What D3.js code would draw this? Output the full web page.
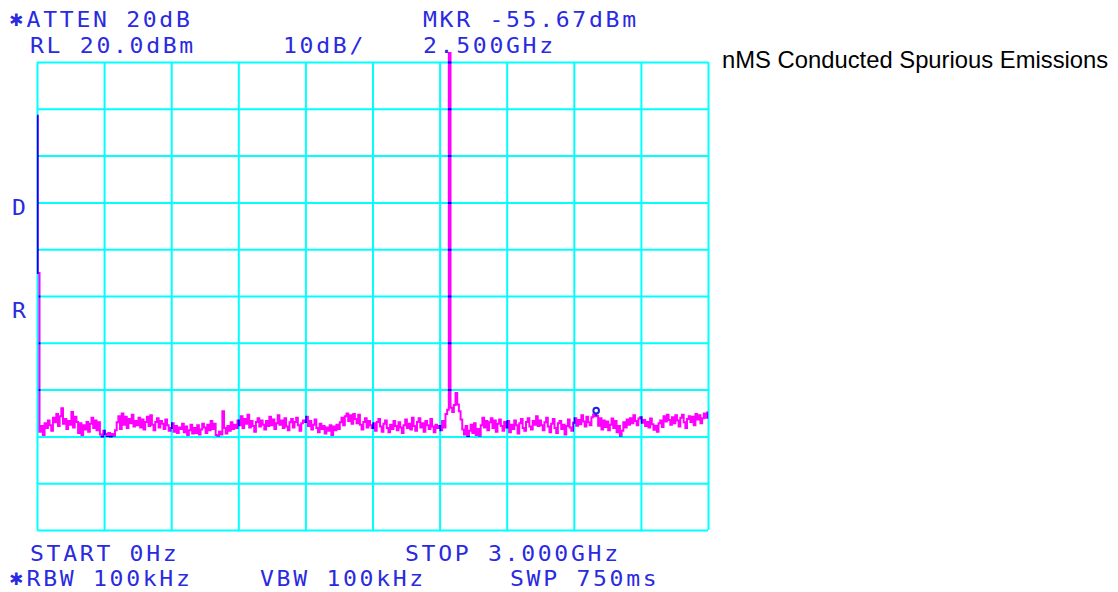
<!DOCTYPE html>
<html>
<head>
<meta charset="utf-8">
<script src="https://cdn.jsdelivr.net/npm/d3@7"></script>
<style>
  html, body { margin: 0; padding: 0; background: #fff; }
  svg { display: block; }
  .scr { font-family: "DejaVu Sans Mono", monospace; font-size: 21px; letter-spacing: 2.45px; fill: #2a2ae0; }
  .star { font-family: "DejaVu Sans", sans-serif; font-size: 17px; fill: #2a2ae0; }
</style>
</head>
<body>
<svg id="chart"></svg>
<script>
// sweep settings
const startGHz = 0, stopGHz = 3.0;
const refDbm = 20, dbPerDiv = 10, vDivs = 10, hDivs = 10;

// trace A, 401 sweep points, dBm
const traceDbm = [
  8.5, -25.1, -59.0, -57.8, -59.7, -57.2, -58.2, -56.6, -57.6, -58.8, -56.0, -57.0, -55.2, -57.8, -55.7, -54.0, -57.3, -56.3, -58.4, -56.7,
  -57.5, -54.8, -58.1, -55.8, -56.9, -59.3, -57.2, -59.7, -57.6, -58.5, -56.9, -59.0, -57.3, -56.0, -58.2, -56.6, -58.7, -57.0, -59.6, -60.0,
  -58.8, -59.5, -59.9, -59.3, -60.0, -59.5, -59.8, -58.7, -57.0, -55.7, -58.4, -55.1, -57.5, -55.8, -58.2, -56.3, -57.2, -55.4, -57.9, -56.7,
  -57.6, -56.0, -58.1, -56.4, -58.5, -56.9, -55.8, -57.8, -55.5, -57.5, -58.7, -56.9, -56.1, -58.1, -56.7, -57.3, -58.4, -56.4, -57.6, -58.8,
  -58.2, -57.2, -59.0, -57.8, -59.3, -58.1, -58.4, -57.3, -59.1, -57.9, -59.7, -58.7, -57.5, -59.4, -58.2, -59.3, -57.6, -59.6, -58.5, -57.3,
  -58.1, -59.3, -57.5, -58.7, -56.7, -58.4, -57.3, -59.7, -59.8, -59.0, -59.6, -54.6, -58.2, -59.4, -57.8, -58.8, -57.0, -58.4, -57.5, -58.2,
  -56.6, -57.6, -55.7, -58.2, -56.3, -57.3, -55.4, -58.1, -56.7, -57.8, -59.0, -56.9, -56.1, -57.9, -56.6, -57.5, -58.5, -56.7, -57.8, -55.8,
  -57.6, -56.4, -58.4, -57.2, -55.5, -57.5, -56.6, -58.2, -56.1, -57.9, -58.7, -57.0, -56.3, -58.1, -56.9, -56.0, -57.6, -58.8, -57.2, -56.6,
  -56.9, -55.8, -57.8, -56.7, -58.5, -57.5, -56.4, -58.2, -59.1, -57.3, -58.4, -57.8, -59.4, -58.1, -58.8, -57.6, -59.7, -57.9, -58.7, -57.5,
  -58.4, -57.0, -56.0, -57.6, -55.7, -55.1, -56.7, -55.5, -57.3, -55.2, -56.3, -57.2, -55.4, -57.5, -58.5, -56.9, -56.1, -58.1, -56.7, -57.6,
  -58.2, -57.2, -58.8, -56.9, -56.3, -57.9, -59.0, -57.3, -56.6, -58.2, -59.1, -57.5, -58.4, -56.7, -57.8, -58.7, -57.0, -58.1, -59.3, -57.6,
  -56.4, -58.2, -57.3, -58.5, -56.0, -57.8, -58.8, -56.9, -56.1, -58.1, -57.2, -59.0, -56.7, -57.6, -58.4, -56.3, -57.9, -59.1, -57.5, -58.2,
  -57.8, -58.7, -56.7, -58.1, -55.2, -54.3, 21.9, -53.9, -54.8, -53.3, -50.7, -53.2, -54.6, -56.4, -58.5, -59.6, -57.8, -59.9, -58.8, -57.5,
  -59.3, -57.2, -59.7, -58.4, -59.8, -57.6, -56.0, -58.1, -56.7, -58.7, -57.0, -56.1, -58.2, -56.6, -59.0, -57.3, -56.4, -57.8, -58.8, -56.9,
  -58.1, -56.7, -59.1, -57.5, -58.4, -56.6, -57.6, -59.4, -57.2, -56.3, -58.2, -58.8, -56.9, -56.1, -57.9, -58.5, -56.7, -57.5, -55.7, -57.8,
  -56.6, -57.6, -58.7, -57.0, -56.0, -57.9, -59.1, -57.3, -56.3, -58.2, -59.3, -57.2, -56.7, -58.4, -57.5, -59.6, -57.8, -56.4, -58.1, -58.8,
  -57.1, -56.1, -57.7, -56.5, -57.4, -55.5, -56.8, -57.9, -55.8, -57.0, -57.6, -55.9, -55.3, -55.7, -55.6, -57.7, -56.1, -58.5, -56.6, -58.0,
  -56.8, -58.7, -57.5, -56.2, -58.2, -56.7, -59.1, -57.8, -59.8, -58.8, -57.0, -58.1, -56.4, -57.5, -56.1, -57.2, -55.5, -56.7, -57.6, -56.2,
  -55.9, -57.1, -56.5, -57.8, -56.9, -58.1, -56.2, -57.4, -58.6, -57.7, -59.0, -57.2, -56.6, -58.0, -55.7, -56.8, -55.4, -56.5, -57.5, -55.9,
  -57.2, -55.5, -56.6, -57.9, -56.0, -55.4, -57.0, -58.2, -56.3, -55.7, -56.9, -55.8, -57.6, -55.2, -56.4, -55.5, -57.2, -56.1, -55.1, -56.0, -54.9
];

const markerGHz = 2.5, markerDbm = -55.67;

const topLabels = ["*ATTEN 20dB", "MKR -55.67dBm", "RL 20.0dBm", "10dB/", "2.500GHz"];
const bottomLabels = ["START 0Hz", "STOP 3.000GHz", "*RBW 100kHz", "VBW 100kHz", "SWP 750ms"];
const sideLabels = ["D", "R"];
const title = "nMS Conducted Spurious Emissions";

const width = 1118, height = 592;
const screen = {left: 37, right: 708, top: 62, bottom: 530};
const cell = 16.6, sx = 1.1;

const svg = d3.select("#chart").attr("width", width).attr("height", height);
svg.append("rect").attr("width", width).attr("height", height).attr("fill", "#fff");

const x = d3.scaleLinear().domain([startGHz, stopGHz]).range([screen.left, screen.right]);
const y = d3.scaleLinear()
  .domain([refDbm - dbPerDiv * vDivs, refDbm])
  .range([screen.bottom, screen.top]);

const step = (stopGHz - startGHz) / (traceDbm.length - 1);
const trace = traceDbm.map((v, i) => [startGHz + i * step, v]);

// trace
svg.append("path")
  .datum(trace)
  .attr("fill", "none")
  .attr("stroke", "#ff00ff")
  .attr("stroke-width", 2)
  .attr("d", d3.line().curve(d3.curveStep).x(d => x(d[0])).y(d => y(d[1])));

// marker
const mx = x(markerGHz), my = y(markerDbm);
svg.append("line")
  .attr("x1", mx).attr("x2", mx).attr("y1", my - 3).attr("y2", my)
  .attr("stroke", "#1f1fe8").attr("stroke-width", 2);
svg.append("circle")
  .attr("cx", mx).attr("cy", my - 5.5).attr("r", 2.8)
  .attr("fill", "#fff").attr("stroke", "#1f1fe8").attr("stroke-width", 2);

// graticule drawn over the trace (cyan x magenta -> blue)
const grid = svg.append("g").style("mix-blend-mode", "multiply");
grid.append("g")
  .attr("transform", `translate(0,${screen.bottom})`)
  .call(d3.axisBottom(x).tickValues(d3.range(hDivs + 1).map(i => startGHz + i * (stopGHz - startGHz) / hDivs))
    .tickSize(-(screen.bottom - screen.top)).tickFormat(""));
grid.append("g")
  .attr("transform", `translate(${screen.left},0)`)
  .call(d3.axisLeft(y).tickValues(d3.range(vDivs + 1).map(i => refDbm - i * dbPerDiv))
    .tickSize(-(screen.right - screen.left)).tickFormat(""));
grid.selectAll(".domain").remove();
grid.selectAll(".tick line").attr("stroke", "#00ffff").attr("stroke-width", 2);

// screen annotations
const topPos = [[10, 27], [423, 27], [30, 53], [283, 53], [423, 53]];
const bottomPos = [[30, 561], [405, 561], [10, 586], [260, 586], [510, 586]];
const sidePos = [[12, 215], [12, 318]];

const labels = topLabels.map((t, i) => ({t, p: topPos[i]}))
  .concat(bottomLabels.map((t, i) => ({t, p: bottomPos[i]})))
  .concat(sideLabels.map((t, i) => ({t, p: sidePos[i]})));

const ann = svg.append("g");
labels.forEach(d => {
  let t = d.t, x0 = d.p[0];
  if (t[0] === "*") {
    ann.append("text").attr("class", "star")
      .attr("x", x0 - 1).attr("y", d.p[1] - 1).text("\u2731");
    t = t.slice(1);
    x0 += cell;
  }
  ann.append("text")
    .attr("class", "scr")
    .attr("transform", `translate(${x0},${d.p[1]}) scale(${sx},1)`)
    .text(t);
});

svg.append("text")
  .attr("x", 722).attr("y", 68)
  .attr("font-family", "Liberation Sans, Arial, sans-serif")
  .attr("font-size", 23.8)
  .attr("fill", "#000")
  .text(title);
</script>
</body>
</html>
